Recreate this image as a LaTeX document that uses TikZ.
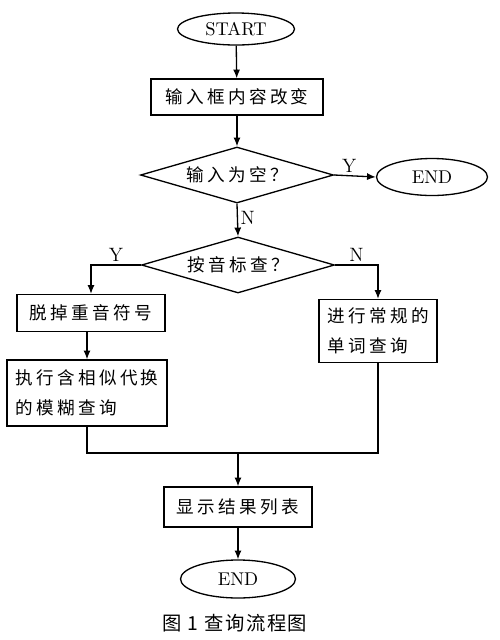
\documentclass[tikz,border=0pt]{standalone}
\usepackage{fontspec}
\usepackage{tikz}
\usetikzlibrary{positioning,arrows.meta,shapes.geometric}
\newfontfamily\cjk[LetterSpace=19]{Noto Sans CJK SC}
\newfontfamily\cjkcap[LetterSpace=8]{Noto Sans CJK SC}

\begin{document}
\begin{tikzpicture}[x=0.02cm,y=-0.02cm,line width=0.75pt,
    procbox/.style={draw,rectangle,inner sep=0pt,font=\cjk\fontsize{10}{17}\selectfont},
    termnode/.style={draw,ellipse,inner sep=0pt,font=\fontsize{10.5}{12}\selectfont},
    testnode/.style={draw,diamond,aspect=3.45,inner sep=0pt,minimum width=3.86cm,minimum height=1.12cm,font=\cjk\fontsize{10}{12}\selectfont},
    flowarrow/.style={-{Latex[length=5pt,width=4pt]}},
    ynlabel/.style={font=\fontsize{11}{12}\selectfont,inner sep=1.5pt}]
  \useasboundingbox (0,0) rectangle (500,640);
  % terminals and steps
  \node[termnode,minimum width=2.34cm,minimum height=0.64cm] (start) at (236,29) {START};
  \node[procbox,minimum width=3.44cm,minimum height=0.72cm] (input) at (237,97) {输入框内容改变};
  \node[testnode] (empty) at (237,175) {输入为空？};
  \node[termnode,minimum width=2.22cm,minimum height=0.74cm] (endA) at (432,177) {END};
  \node[testnode] (accent) at (238,265) {按音标查？};
  \node[procbox,minimum width=2.96cm,minimum height=0.74cm] (strip) at (91,313) {脱掉重音符号};
  \node[procbox,minimum width=3.2cm,minimum height=1.32cm,align=left] (fuzzy) at (87,393)
    {执行含相似代换\\的模糊查询\hphantom{代换}};
  \node[procbox,minimum width=2.36cm,minimum height=1.26cm,align=left] (exact) at (378,331)
    {进行常规的\\单词查询\hphantom{的}};
  \coordinate (join) at (238,453);
  \node[procbox,minimum width=2.96cm,minimum height=0.8cm] (show) at (238,507) {显示结果列表};
  \node[termnode,minimum width=2.3cm,minimum height=0.76cm] (endB) at (238,579) {END};
  \node[font=\cjkcap\fontsize{11}{13}\selectfont] (caption) at (235,623) {图 1 查询流程图};
  % connectors
  \draw[flowarrow] (start) -- (input);
  \draw[flowarrow] (input) -- (empty);
  \draw[flowarrow] (empty.east) -- node[ynlabel,above,pos=0.36] {Y} (endA.west);
  \draw[flowarrow] (empty.south) -- node[ynlabel,right,pos=0.45] {N} (accent.north);
  \draw[flowarrow] (accent.west) -| node[ynlabel,above,pos=0.25] {Y} (strip.north);
  \draw[flowarrow] (accent.east) -| node[ynlabel,above,pos=0.25] {N} (exact.north);
  \draw[flowarrow] (strip.south -| fuzzy.north) -- (fuzzy.north);
  \draw (fuzzy.south) |- (join) -| (exact.south);
  \draw[flowarrow] (join) -- (show);
  \draw[flowarrow] (show) -- (endB);
\end{tikzpicture}
\end{document}
